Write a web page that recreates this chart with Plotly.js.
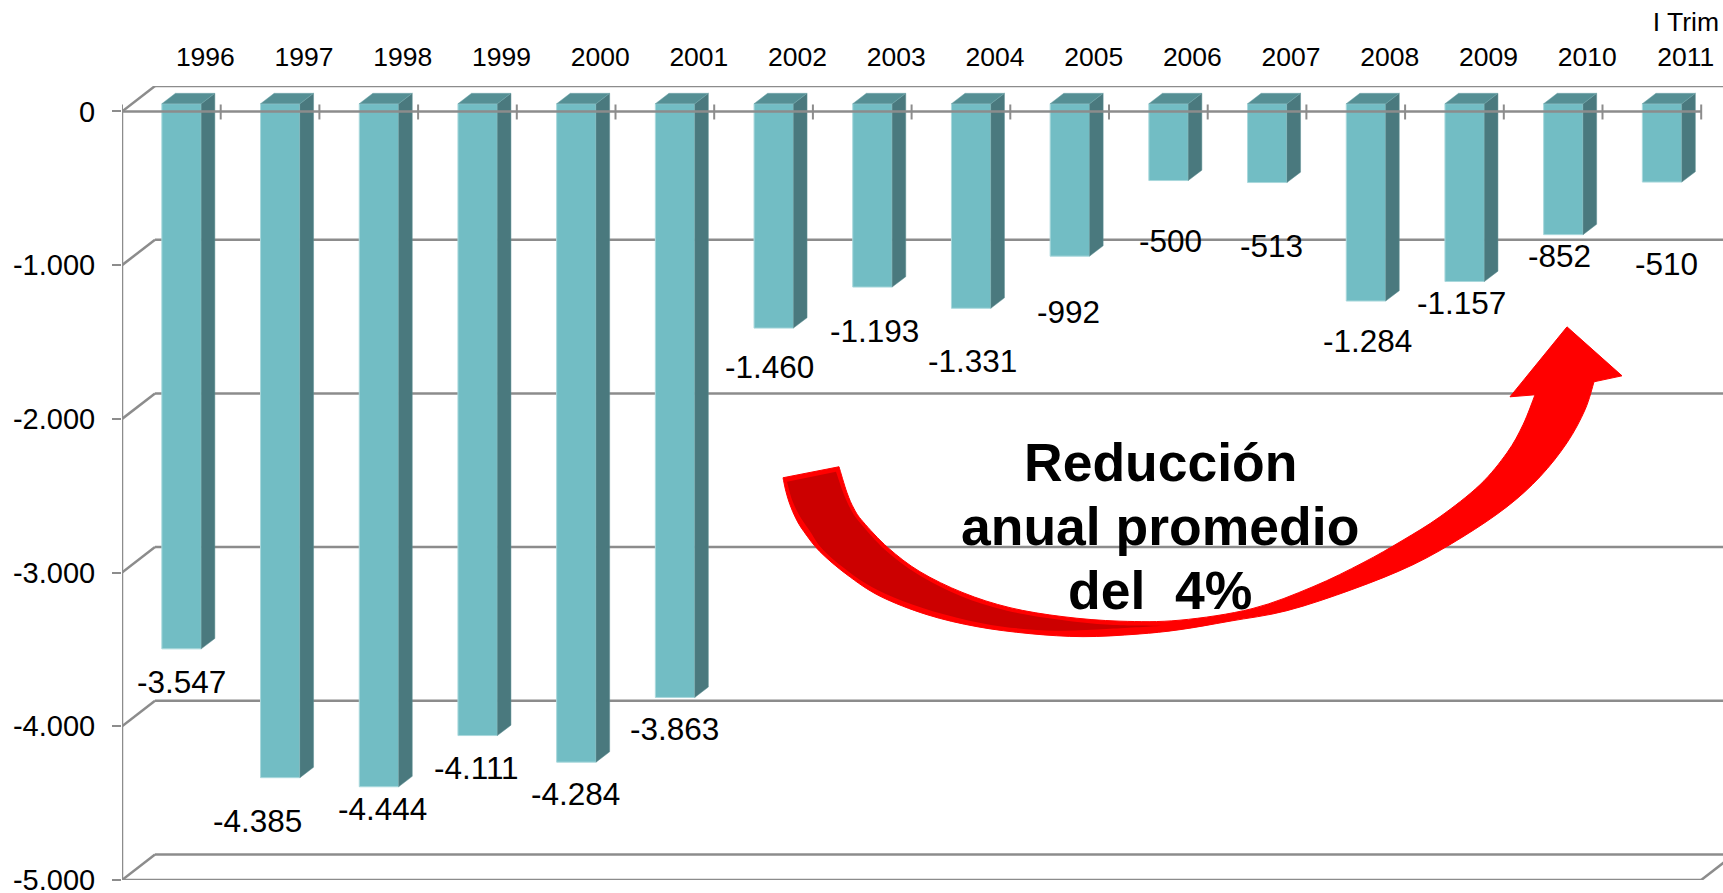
<!DOCTYPE html>
<html>
<head>
<meta charset="utf-8">
<script src="https://cdn.plot.ly/plotly-3.0.1.min.js"></script>
<style>html,body{margin:0;padding:0;background:#fff;overflow:hidden}</style>
</head>
<body>
<div id="chart" style="width:1723px;height:893px"></div>
<script>
// Saldo anual, 1996 to first quarter of 2011
const categories = ['1996','1997','1998','1999','2000','2001','2002','2003','2004','2005','2006','2007','2008','2009','2010','I Trim<br>2011'];
const values = [-3547,-4385,-4444,-4111,-4284,-3863,-1460,-1193,-1331,-992,-500,-513,-1284,-1157,-852,-510];
const yTicks = [0,-1000,-2000,-3000,-4000,-5000];
const yTickLabels = ['0','-1.000','-2.000','-3.000','-4.000','-5.000'];
const calloutLines = ['Reducción','anual promedio','del\u00a0\u00a04%'];

// Hand placed label offsets from each bar's foot, in pixels
const labelDx = [0,-23,4,-1,-1,-1,-4,2,1,-1,2,4,2,-3,-4,4];
const labelDy = [33,43,22,32,32,32,39,44,53,56,60,63,40,21,21,82];

// Axis geometry: pixels per unit and the oblique depth of the 3D box
const W = 1723, H = 893, left = 122, top0 = 111.5, bottom = 880.5;
const pxPerCat = 98.7, pxPerVal = (bottom - top0) / 5000;
const wallDx = 33 / pxPerCat, wallDy = 25.5 / pxPerVal;
const xMin = -0.5, xMax = xMin + (W - left) / pxPerCat, yMax = wallDy;

const GRID = '#8c8c8c', FRONT = '#72bdc4', SIDE = '#4a797e', TOP = '#558f94', RED = '#ff0000', DARK = '#cc0000';
const barWidth = 39.4 / pxPerCat, barShift = 10.2 / pxPerCat, barLift = 7.8 / pxPerVal;
const sideDx = 13.6 / pxPerCat, sideDy = 10.4 / pxPerVal;

const xs = values.map((_, i) => i);
const X = px => xMin + (px - left) / pxPerCat;
const Y = px => (top0 - px) / pxPerVal;

// Oblique faces of every bar, as null separated polygons
function faces(make) {
  const fx = [], fy = [];
  values.forEach((v, i) => {
    const l = i + barShift - barWidth / 2, r = l + barWidth;
    make(l, r, barLift, v + barLift).forEach(p => { fx.push(p[0]); fy.push(p[1]); });
    fx.push(null); fy.push(null);
  });
  return {x: fx, y: fy};
}
const side = faces((l, r, t, b) => [[r, t], [r + sideDx, t + sideDy], [r + sideDx, b + sideDy], [r, b], [r, t]]);
const cap = faces((l, r, t) => [[l, t], [l + sideDx, t + sideDy], [r + sideDx, t + sideDy], [r, t], [l, t]]);

const traces = [
  {type: 'bar', x: xs.map(i => i + barShift), y: values, base: barLift, width: barWidth,
   marker: {color: FRONT, line: {color: '#a9d8dc', width: 1}}, hoverinfo: 'skip'},
  {type: 'scatter', mode: 'lines', x: side.x, y: side.y, fill: 'toself', fillcolor: SIDE,
   line: {color: '#5f9095', width: 0.5}, hoverinfo: 'skip'},
  {type: 'scatter', mode: 'lines', x: cap.x, y: cap.y, fill: 'toself', fillcolor: TOP,
   line: {color: '#6fa6ab', width: 0.5}, hoverinfo: 'skip'}
];

// Catmull-Rom smoothing through a list of pixel points, as an SVG path fragment
function smooth(pts) {
  let d = '';
  for (let i = 0; i < pts.length - 1; i++) {
    const p0 = pts[Math.max(i - 1, 0)], p1 = pts[i], p2 = pts[i + 1], p3 = pts[Math.min(i + 2, pts.length - 1)];
    const c1 = [p1[0] + (p2[0] - p0[0]) / 6, p1[1] + (p2[1] - p0[1]) / 6];
    const c2 = [p2[0] - (p3[0] - p1[0]) / 6, p2[1] - (p3[1] - p1[1]) / 6];
    d += ` C${X(c1[0])},${Y(c1[1])} ${X(c2[0])},${Y(c2[1])} ${X(p2[0])},${Y(p2[1])}`;
  }
  return d;
}
const pt = p => `${X(p[0])},${Y(p[1])}`;

// Curved callout arrow
const innerEdge = [[839,467],[847,493],[854,509],[863,522],[888,548],[920,572],[963,593],[1010,608],[1063,617],[1120,621.5],[1180,620.5],[1252,609],[1313,587],[1363,563],[1402,541],[1440,517],[1480,485],[1507,453],[1523,425],[1535,395]];
const outerEdge = [[1594,382],[1585,410],[1567,443],[1540,477],[1507,507],[1463,537],[1413,565],[1353,589.5],[1287,611],[1230,621.5],[1180,630],[1137,634.5],[1083,637],[1030,634],[977,627],[927,615],[880,596.5],[847,575],[820,552],[804,532],[796,519],[790,505],[786,492],[783,478]];
const arrowPath = `M${pt(innerEdge[0])}` + smooth(innerEdge) +
  ` L${pt([1510,397])} L${pt([1567,327])} L${pt([1622,376])} L${pt(outerEdge[0])}` + smooth(outerEdge) + ' Z';

const shadeInner = [[836,472],[844,495],[851,510],[860,523],[885,550],[917,574],[960,596],[1007,611],[1060,620],[1110,625],[1163,626]];
const shadeOuter = [[1163,626],[1110,629],[1057,631],[1003,627],[957,618],[913,605],[877,590],[850,573],[823,550],[809,530],[799,515],[792,500],[787,482]];
const shadePath = `M${pt(shadeInner[0])}` + smooth(shadeInner) + smooth(shadeOuter) + ' Z';

const line = (x0, y0, x1, y1, layer) => ({type: 'line', x0, y0, x1, y1, layer, line: {color: GRID, width: 2.5}});

const shapes = [];
// Back wall grid and its oblique links to the value axis
yTicks.forEach(v => {
  shapes.push(line(xMin, v, xMin + wallDx, v + wallDy, 'below'));
  shapes.push(line(xMin + wallDx, v + wallDy, xMax, v + wallDy, 'below'));
});
// Value axis, floor edge and its right oblique
shapes.push(line(xMin, 0, xMin, -5000, 'below'));
shapes.push(line(xMin, -5000, 15.5, -5000, 'below'));
shapes.push(line(15.5, -5000, 15.5 + wallDx, -5000 + wallDy, 'below'));
// Category axis at zero with its ticks, passing in front of the bars
shapes.push(line(xMin, 0, 15.5, 0, 'above'));
for (let k = 0; k <= categories.length; k++) {
  shapes.push({type: 'line', x0: xMin + k, x1: xMin + k, y0: 7 / pxPerVal, y1: -8 / pxPerVal, layer: 'above', line: {color: GRID, width: 2}});
}
shapes.push({type: 'path', path: arrowPath, fillcolor: RED, line: {color: RED, width: 1}, layer: 'above'});
shapes.push({type: 'path', path: shadePath, fillcolor: DARK, line: {width: 0}, layer: 'above'});

const font = 'Liberation Sans, Arial, sans-serif';
const valueText = v => '-' + Math.abs(v).toLocaleString('de-DE');

const annotations = values.map((v, i) => ({
  x: i + barShift, y: v + barLift, text: valueText(v), showarrow: false,
  xanchor: 'center', yanchor: 'middle', xshift: labelDx[i], yshift: -labelDy[i],
  font: {family: font, size: 31.5, color: '#000'}
}));
calloutLines.forEach((t, i) => annotations.push({
  x: X(1160), y: Y(463 + i * 64), text: t, showarrow: false, xanchor: 'center', yanchor: 'middle',
  font: {family: font, size: 53.5, color: '#000', weight: 700}
}));

const layout = {
  width: W, height: H, showlegend: false, paper_bgcolor: '#fff', plot_bgcolor: '#fff',
  margin: {l: left, t: 86, r: 0, b: H - bottom, pad: 0},
  xaxis: {type: 'linear', range: [xMin, xMax], side: 'top', showgrid: false, zeroline: false, showline: false,
          tickmode: 'array', tickvals: xs.map(i => i + 34 / pxPerCat), ticktext: categories,
          ticks: '', ticklabelstandoff: 14, ticklabeloverflow: 'allow', tickfont: {family: font, size: 26.5, color: '#000'}},
  yaxis: {type: 'linear', range: [-5000, yMax], showgrid: false, zeroline: false, showline: false,
          tickmode: 'array', tickvals: yTicks, ticktext: yTickLabels,
          ticks: 'outside', ticklen: 9, tickwidth: 2, tickcolor: GRID, ticklabelstandoff: 11, ticklabeloverflow: 'allow',
          tickfont: {family: font, size: 29, color: '#000'}},
  bargap: 0, shapes, annotations
};

Plotly.newPlot('chart', traces, layout, {displayModeBar: false, staticPlot: true});
</script>
</body>
</html>
